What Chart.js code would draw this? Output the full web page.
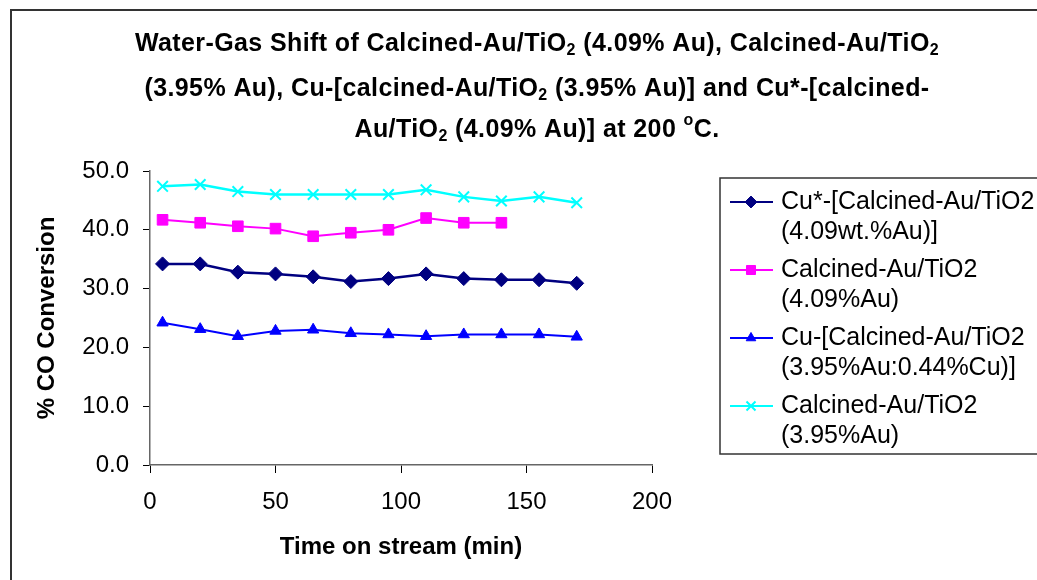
<!DOCTYPE html>
<html>
<head>
<meta charset="utf-8">
<script src="https://cdn.jsdelivr.net/npm/chart.js@4.4.1/dist/chart.umd.min.js"></script>
<style>
  html, body { margin: 0; padding: 0; background: #fff; }
  #wrap { width: 1037px; height: 580px; }
</style>
</head>
<body>
<div id="wrap"><canvas id="wgs" width="1037" height="580"></canvas></div>
<script>
// time on stream (min)
const times = [5, 20, 35, 50, 65, 80, 95, 110, 125, 140, 155, 170];

// % CO conversion per catalyst
const cuStar409 = [34.2, 34.2, 32.8, 32.5, 32.0, 31.2, 31.7, 32.5, 31.7, 31.5, 31.5, 30.9];
const calc409   = [41.7, 41.2, 40.6, 40.2, 38.9, 39.5, 40.0, 42.0, 41.2, 41.2];
const cu395     = [24.2, 23.1, 21.9, 22.8, 23.0, 22.4, 22.2, 21.9, 22.2, 22.2, 22.2, 21.8];
const calc395   = [47.4, 47.7, 46.5, 46.0, 46.0, 46.0, 46.0, 46.8, 45.6, 44.9, 45.6, 44.6];

const seriesNames = [
  ['Cu*-[Calcined-Au/TiO2', '(4.09wt.%Au)]'],
  ['Calcined-Au/TiO2', '(4.09%Au)'],
  ['Cu-[Calcined-Au/TiO2', '(3.95%Au:0.44%Cu)]'],
  ['Calcined-Au/TiO2', '(3.95%Au)']
];

const xTicks = [0, 50, 100, 150, 200];
const yTicks = [0, 10, 20, 30, 40, 50];

// title with sub/superscript runs
const titleLines = [
  [['Water-Gas Shift of Calcined-Au/TiO'], ['2', 'sub'], [' (4.09% Au), Calcined-Au/TiO'], ['2', 'sub']],
  [['(3.95% Au), Cu-[calcined-Au/TiO'], ['2', 'sub'], [' (3.95% Au)] and Cu*-[calcined-']],
  [['Au/TiO'], ['2', 'sub'], [' (4.09% Au)] at 200 '], ['o', 'sup'], ['C.']]
];

const toPts = vals => vals.map((v, i) => ({ x: times[i], y: v }));

const FONT = '"Liberation Sans", Arial, sans-serif';

const framePlugin = {
  id: 'frame',
  beforeDraw(chart) {
    const ctx = chart.ctx;
    ctx.save();
    ctx.fillStyle = '#fff';
    ctx.fillRect(0, 0, chart.width, chart.height);
    ctx.strokeStyle = '#333';
    ctx.lineWidth = 2;
    ctx.beginPath();
    ctx.moveTo(11, chart.height + 5);
    ctx.lineTo(11, 10);
    ctx.lineTo(chart.width + 5, 10);
    ctx.stroke();
    ctx.restore();
  }
};

const titlePlugin = {
  id: 'richTitle',
  afterDraw(chart) {
    const ctx = chart.ctx;
    const size = 25, small = 16;
    const ys = [44, 89, 130];
    ctx.save();
    ctx.fillStyle = '#000';
    ctx.textBaseline = 'middle';
    ctx.textAlign = 'left';
    ctx.letterSpacing = '0.4px';
    titleLines.forEach((runs, li) => {
      let total = 0;
      runs.forEach(r => {
        ctx.font = 'bold ' + (r[1] ? small : size) + 'px ' + FONT;
        total += ctx.measureText(r[0]).width;
      });
      let x = 537 - total / 2;
      runs.forEach(r => {
        ctx.font = 'bold ' + (r[1] ? small : size) + 'px ' + FONT;
        let y = ys[li];
        if (r[1] === 'sub') y += 7;
        if (r[1] === 'sup') y -= 9;
        ctx.fillText(r[0], x, y);
        x += ctx.measureText(r[0]).width;
      });
    });
    ctx.restore();
  }
};

const legendPlugin = {
  id: 'boxLegend',
  afterDraw(chart) {
    const ctx = chart.ctx;
    const left = 720, top = 178, bottom = 454;
    ctx.save();
    ctx.strokeStyle = '#333';
    ctx.lineWidth = 1.5;
    ctx.strokeRect(left, top, 400, bottom - top);
    ctx.font = '25px ' + FONT;
    ctx.textBaseline = 'middle';
    ctx.textAlign = 'left';
    chart.data.datasets.forEach((ds, i) => {
      const y0 = 202 + i * 68;
      ctx.strokeStyle = ds.borderColor;
      ctx.lineWidth = 2;
      ctx.beginPath();
      ctx.moveTo(730, y0);
      ctx.lineTo(773, y0);
      ctx.stroke();
      ctx.fillStyle = ds.pointBackgroundColor;
      ctx.strokeStyle = ds.pointBorderColor;
      ctx.lineWidth = ds.pointBorderWidth;
      Chart.helpers.drawPoint(ctx, {
        pointStyle: ds.pointStyle, radius: ds.pointRadius * 0.85, borderWidth: ds.pointBorderWidth, rotation: 0
      }, 751, y0);
      ctx.fillStyle = '#000';
      seriesNames[i].forEach((t, k) => ctx.fillText(t, 781, y0 + k * 30));
    });
    ctx.restore();
  }
};

function series(label, vals, color, style, radius, lw) {
  return {
    label: label,
    data: toPts(vals),
    borderColor: color,
    backgroundColor: color,
    borderWidth: lw,
    pointStyle: style,
    pointRadius: radius,
    pointHoverRadius: radius,
    pointBackgroundColor: color,
    pointBorderColor: color,
    pointBorderWidth: style === 'crossRot' ? 2 : 1,
    tension: 0,
    fill: false
  };
}

new Chart(document.getElementById('wgs'), {
  type: 'line',
  data: {
    datasets: [
      series(seriesNames[0].join(' '), cuStar409, '#000080', 'rectRot', 7, 2.5),
      series(seriesNames[1].join(' '), calc409, '#FF00FF', 'rect', 7.5, 2),
      series(seriesNames[2].join(' '), cu395, '#0000FF', 'triangle', 6.5, 2),
      series(seriesNames[3].join(' '), calc395, '#00FFFF', 'crossRot', 7.5, 2.5)
    ]
  },
  options: {
    responsive: false,
    animation: false,
    events: [],
    layout: { padding: { left: 0, top: 171, right: 385, bottom: 0 } },
    plugins: { legend: { display: false }, title: { display: false }, tooltip: { enabled: false } },
    scales: {
      x: {
        type: 'linear',
        min: 0, max: 200,
        afterBuildTicks: s => { s.ticks = xTicks.map(v => ({ value: v })); },
        afterFit: s => { s.height = 115; },
        grid: { display: true, drawOnChartArea: false, tickLength: 8, color: '#000' },
        border: { color: '#666', width: 1.5 },
        ticks: { color: '#000', font: { family: FONT, size: 24 }, padding: 15, maxRotation: 0 },
        title: { display: true, text: 'Time on stream (min)', color: '#000',
                 font: { family: FONT, size: 24, weight: 'bold' }, padding: { top: 0, bottom: 18 } }
      },
      y: {
        min: 0, max: 50,
        afterBuildTicks: s => { s.ticks = yTicks.map(v => ({ value: v })); },
        afterFit: s => { s.width = 150; },
        grid: { display: true, drawOnChartArea: false, tickLength: 7, color: '#000' },
        border: { color: '#666', width: 1.5 },
        ticks: { color: '#000', font: { family: FONT, size: 24 }, padding: 14, callback: v => v.toFixed(1) },
        title: { display: true, text: '% CO Conversion', color: '#000',
                 font: { family: FONT, size: 24, weight: 'bold' }, padding: { top: 33, bottom: 0 } }
      }
    }
  },
  plugins: [framePlugin, titlePlugin, legendPlugin]
});
</script>
</body>
</html>
